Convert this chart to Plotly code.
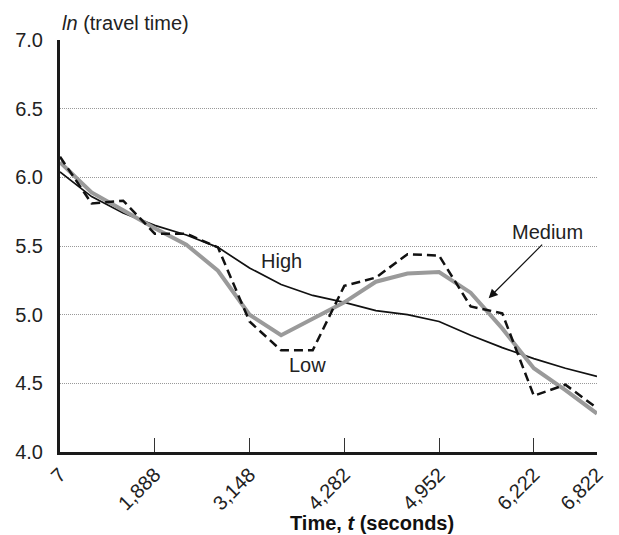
import plotly.graph_objects as go

# Data
tick_labels = ["7", "1,888", "3,148", "4,282", "4,952", "6,222", "6,822"]
tick_index = [0, 3, 6, 9, 12, 15, 17]
point_index = list(range(18))

high = [6.04, 5.86, 5.74, 5.65, 5.58, 5.49, 5.34, 5.22, 5.14, 5.09, 5.03, 5.00, 4.95, 4.85, 4.76, 4.68, 4.61, 4.55]
medium = [6.11, 5.89, 5.76, 5.63, 5.51, 5.32, 5.00, 4.85, 4.97, 5.09, 5.24, 5.30, 5.31, 5.16, 4.90, 4.61, 4.45, 4.28]
low = [6.15, 5.81, 5.83, 5.59, 5.59, 5.49, 4.95, 4.74, 4.74, 5.21, 5.27, 5.44, 5.43, 5.06, 5.01, 4.41, 4.49, 4.32]

FONT = "Liberation Sans, Arial, sans-serif"
TXT = "#222222"

fig = go.Figure()
fig.add_trace(go.Scatter(x=point_index, y=high, mode="lines",
                         line=dict(color="#111111", width=1.7), name="High"))
fig.add_trace(go.Scatter(x=point_index, y=medium, mode="lines",
                         line=dict(color="#9a9a9a", width=4), name="Medium"))
fig.add_trace(go.Scatter(x=point_index, y=low, mode="lines",
                         line=dict(color="#111111", width=2.5, dash="9px,5px"), name="Low"))

fig.update_layout(
    width=619, height=535,
    margin=dict(l=60, r=12, t=40, b=83),
    paper_bgcolor="white", plot_bgcolor="white",
    showlegend=False,
    font=dict(family=FONT, color=TXT, size=20),
)

fig.update_xaxes(
    range=[0, 17], tickmode="array", tickvals=tick_index, ticktext=tick_labels,
    tickangle=-45, ticks="inside", ticklen=14, tickwidth=1.2, tickcolor="#333",
    showline=True, linecolor="#1a1a1a", linewidth=3, showgrid=False, zeroline=False,
    tickfont=dict(size=20, family=FONT, color=TXT),
)
fig.update_yaxes(
    range=[4.0, 7.0], tickmode="array", tickvals=[4.0, 4.5, 5.0, 5.5, 6.0, 6.5, 7.0],
    tickformat=".1f", ticks="", ticklabelstandoff=10,
    showline=True, linecolor="#1a1a1a", linewidth=3,
    showgrid=True, gridcolor="#999999", griddash="1px,1px", gridwidth=1, zeroline=False,
    tickfont=dict(size=20, family=FONT, color=TXT),
)

# axis titles
fig.add_annotation(x=0, y=1.0, xref="paper", yref="paper", xanchor="left", yanchor="middle",
                   yshift=17, text="<i>ln</i> (travel time)", showarrow=False,
                   font=dict(size=20, family=FONT, color=TXT))
fig.add_annotation(x=0.581, y=0, xref="paper", yref="paper", xanchor="center", yanchor="middle",
                   yshift=-71, text="<b>Time, <i>t</i> (seconds)</b>", showarrow=False,
                   font=dict(size=20, family=FONT, color="#111"))

# series labels
fig.add_annotation(x=7.0, y=5.39, text="High", showarrow=False,
                   font=dict(size=20, family=FONT, color=TXT))
fig.add_annotation(x=7.83, y=4.63, text="Low", showarrow=False,
                   font=dict(size=20, family=FONT, color=TXT))
fig.add_annotation(x=15.43, y=5.6, text="Medium", showarrow=False,
                   font=dict(size=20, family=FONT, color=TXT))
fig.add_annotation(x=13.57, y=5.12, ax=55, ay=-55, text="", showarrow=True,
                   arrowhead=2, arrowsize=1.5, arrowwidth=1.2, arrowcolor="#111")

fig.write_html("out.html")
